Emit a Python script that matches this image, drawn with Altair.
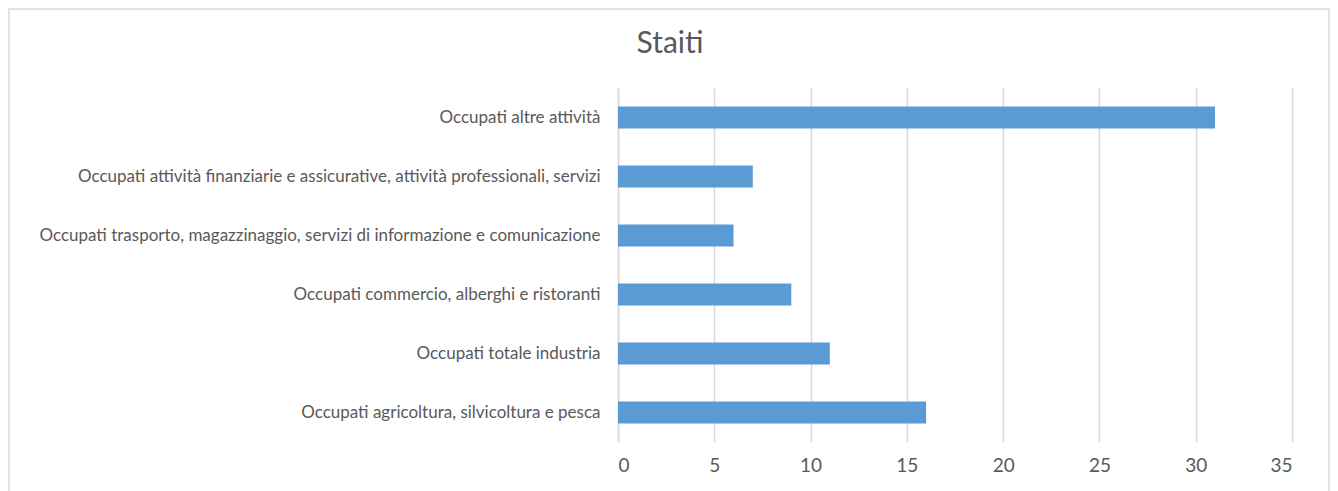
import altair as alt
import pandas as pd

categories = [
    "Occupati altre attività",
    "Occupati attività finanziarie e assicurative, attività professionali, servizi",
    "Occupati trasporto, magazzinaggio, servizi di informazione e comunicazione",
    "Occupati commercio, alberghi e ristoranti",
    "Occupati totale industria",
    "Occupati agricoltura, silvicoltura e pesca",
]
values = [31, 7, 6, 9, 11, 16]
x_ticks = [0, 5, 10, 15, 20, 25, 30, 35]
title_text = "Staiti"

df = pd.DataFrame({"categoria": categories, "valore": values})

FONT = "Lato"
GREY = "#595959"

bars = alt.Chart(df).mark_bar(color="#5b9bd5").encode(
    y=alt.Y(
        "categoria:N",
        sort=categories,
        title=None,
        scale=alt.Scale(paddingInner=0.63, paddingOuter=0.315),
        axis=alt.Axis(
            ticks=False,
            domain=True,
            domainColor="#d9d9d9",
            domainWidth=1.5,
            labelFont=FONT,
            labelFontSize=17,
            labelColor=GREY,
            labelPadding=18,
            labelLimit=700,
            grid=False,
        ),
    ),
    x=alt.X(
        "valore:Q",
        title=None,
        scale=alt.Scale(domain=[0, 35], nice=False),
        axis=alt.Axis(
            values=x_ticks,
            ticks=False,
            domain=False,
            grid=True,
            gridColor="#d9d9d9",
            gridWidth=1.5,
            labelFont=FONT,
            labelFontSize=19,
            labelColor=GREY,
            labelPadding=14,
        ),
    ),
)

frame = alt.Chart(alt.Data(values=[{}])).mark_rect(
    fill="transparent", stroke="#d9d9d9", strokeWidth=1.5
).encode(
    x=alt.value(-609),
    x2=alt.value(711),
    y=alt.value(-79),
    y2=alt.value(430),
)

title = alt.Chart(alt.Data(values=[{}])).mark_text(
    font=FONT,
    fontSize=30,
    color=GREY,
    align="center",
    baseline="alphabetic",
).encode(
    x=alt.value(52),
    y=alt.value(-35),
    text=alt.value(title_text),
)

chart = alt.layer(frame, bars, title).properties(
    width=674,
    height=354,
    autosize=alt.AutoSizeParams(type="none"),
    padding={"left": 610, "top": 80, "right": 38, "bottom": 50},
).configure_view(stroke=None)

chart.save("out.html", embed_options={"renderer": "svg", "actions": False})
